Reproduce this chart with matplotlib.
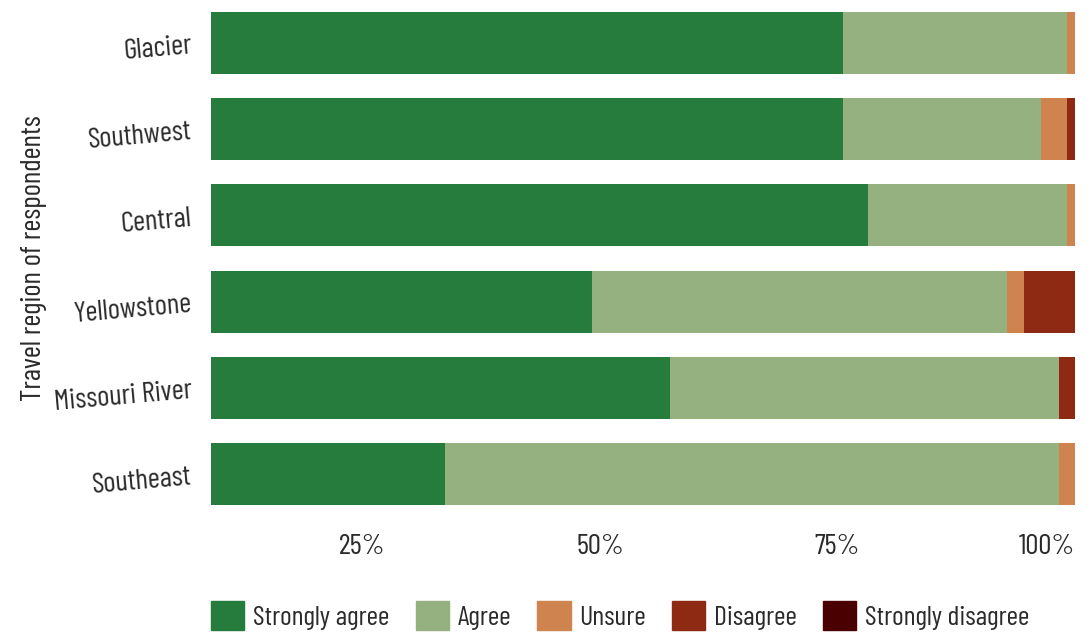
import matplotlib.pyplot as plt
import matplotlib.patches as mpatches
import numpy as np

# === Data (percent of respondents) ===
regions = ["Glacier", "Southwest", "Central", "Yellowstone", "Missouri River", "Southeast"]
strongly_agree = [75.6, 75.6, 78.2, 49.2, 57.4, 33.7]
agree = [23.6, 20.8, 21.0, 43.6, 40.9, 64.6]
unsure = [0.8, 2.8, 0.8, 1.8, 0.0, 1.7]
disagree = [0.0, 0.8, 0.0, 5.4, 1.7, 0.0]
strongly_disagree = [0.0, 0.0, 0.0, 0.0, 0.0, 0.0]

responses = ["Strongly agree", "Agree", "Unsure", "Disagree", "Strongly disagree"]
colors = ["#267c3c", "#94b17f", "#cf834f", "#8e2a14", "#4a0000"]
x_ticks = [25, 50, 75, 100]
x_labels = ["25%", "50%", "75%", "100%"]

plt.rcParams["font.family"] = ["Barlow Condensed", "DejaVu Sans"]
plt.rcParams["font.weight"] = "normal"
plt.rcParams["text.color"] = "#2a2a2a"
fs = 21

fig = plt.figure(figsize=(10.91, 6.32), dpi=100)
ax = fig.add_axes([211 / 1091, 115 / 632, 864 / 1091, 517 / 632])

y = np.arange(len(regions))
left = np.zeros(len(regions))
for vals, col in zip([strongly_agree, agree, unsure, disagree, strongly_disagree], colors):
    ax.barh(y, vals, left=left, height=0.72, color=col, linewidth=0)
    left += np.array(vals)

ax.set_xlim(9.05, 100)
ax.set_ylim(len(regions) - 0.5, -0.5)
ax.set_yticks(y)
ax.set_yticklabels(regions, rotation=5, fontsize=fs, color="#2a2a2a")
ax.set_xticks(x_ticks)
ax.set_xticklabels(x_labels, fontsize=fs, color="#2a2a2a")
ax.get_xticklabels()[-1].set_horizontalalignment("right")
ax.tick_params(axis="y", length=0, pad=13)
ax.tick_params(axis="x", length=0, pad=12)
ax.set_ylabel("Travel region of respondents", fontsize=fs, color="#2a2a2a")
ax.yaxis.set_label_coords(-0.19, 0.5)
for s in ax.spines.values():
    s.set_visible(False)

handles = [mpatches.Patch(color=c, label=r) for r, c in zip(responses, colors)]
fig.legend(handles=handles, loc="upper left", bbox_to_anchor=(200 / 1091, 1 - 590 / 632),
           ncol=5, frameon=False, fontsize=20, handlelength=1.2, handleheight=1.2,
           handletextpad=0.3, columnspacing=0.95, borderaxespad=0)

fig.savefig("out.png", dpi=100)
